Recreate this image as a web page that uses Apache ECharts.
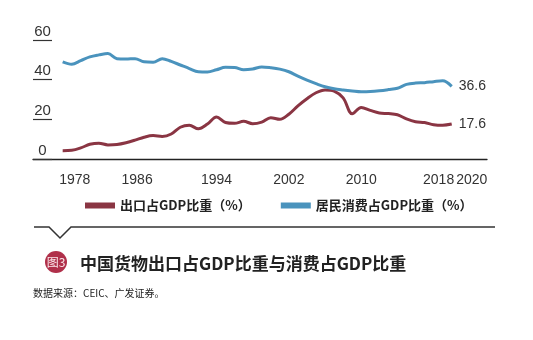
<!DOCTYPE html>
<html>
<head>
<meta charset="utf-8">
<script src="https://cdn.jsdelivr.net/npm/echarts@6/dist/echarts.min.js"></script>
<style>
html,body{margin:0;padding:0;background:#fff;}
#chart{width:533px;height:340px;}
</style>
</head>
<body>
<div id="chart"></div>
<script>
var years = [1977,1978,1979,1980,1981,1982,1983,1984,1985,1986,1987,1988,1989,1990,1991,1992,1993,1994,1995,1996,1997,1998,1999,2000,2001,2002,2003,2004,2005,2006,2007,2008,2009,2010,2011,2012,2013,2014,2015,2016,2017,2018,2019,2020];
var exportShare = [4.2,4.4,5.6,7.4,8.0,7.1,7.3,8.2,9.5,11.0,11.8,11.4,12.6,16.0,17.0,15.2,17.6,21.2,18.4,18.0,19.0,17.8,18.6,20.8,20.0,22.6,26.8,30.4,33.4,34.8,34.2,30.8,22.8,26.0,24.5,23.2,22.9,22.3,20.2,18.8,18.4,17.3,17.0,17.6];
var consumptionShare = [49.0,47.8,49.6,51.5,52.5,53.2,50.6,50.4,50.6,49.0,48.8,50.6,49.2,47.4,45.6,44.0,43.9,45.0,46.2,46.1,45.0,45.4,46.4,46.0,45.3,44.0,41.8,39.8,38.0,36.4,35.4,34.8,34.3,33.9,34.0,34.4,35.0,35.7,37.6,38.3,38.5,39.0,39.4,36.6];
var xTickLabels = [1978,1986,1994,2002,2010,2018,2020];
var yTicks = [0,20,40,60];
var seriesNames = ['出口占GDP比重（%）','居民消费占GDP比重（%）'];
var titleText = '中国货物出口占GDP比重与消费占GDP比重';
var badgeText = '图3';
var sourceText = '数据来源：CEIC、广发证券。';

function pairs(vals){ return years.map(function(y,i){ return [y, vals[i]]; }); }
var labelShift = {1978:'s3', 1986:'m7', 2018:'s8', 2020:'s18'};
var numFont = 'Liberation Sans';
var cjkFont = 'Noto Sans CJK SC';
var rich = {
  s3:{padding:[0,0,0,6], fontSize:14, fontFamily:numFont, color:'#333'},
  m7:{padding:[0,14,0,0], fontSize:14, fontFamily:numFont, color:'#333'},
  s8:{padding:[0,0,0,10], fontSize:14, fontFamily:numFont, color:'#333'},
  s18:{padding:[0,0,0,40], fontSize:14, fontFamily:numFont, color:'#333'}
};
function fmt(v){ var k = labelShift[v]; return k ? '{' + k + '|' + v + '}' : String(v); }
function xAxisFor(vals, showLine){
  return {
    type:'value', min:1973.72, max:2023.9, position:'bottom', offset:0,
    splitLine:{show:false},
    axisTick:{show:false},
    axisLine:{show:showLine, lineStyle:{color:'#222', width:1.3}},
    axisLabel:{
      customValues:vals, margin:14, hideOverlap:false,
      showMinLabel:true, showMaxLabel:true,
      color:'#333', fontSize:14, fontFamily:numFont,
      formatter:fmt, rich:rich
    }
  };
}

var chart = echarts.init(document.getElementById('chart'), null, {renderer:'canvas'});
chart.setOption({
  animation:false,
  backgroundColor:'#fff',
  grid:{left:33, right:46, top:40, bottom:181, containLabel:false},
  legend:{
    left:80, top:194, itemWidth:30, itemHeight:6, itemGap:30, icon:'rect',
    textStyle:{fontSize:13, fontWeight:'bold', color:'#222', fontFamily:cjkFont},
    data:seriesNames
  },
  xAxis:[
    xAxisFor(xTickLabels.slice(0,6), true),
    xAxisFor(xTickLabels.slice(6), false)
  ],
  yAxis:{
    type:'value', min:0, max:60, interval:20,
    splitLine:{show:false},
    axisLine:{show:false},
    axisTick:{show:true, inside:true, length:19, lineStyle:{color:'#333', width:1.2}},
    axisLabel:{
      customValues:yTicks,
      align:'center', verticalAlign:'bottom', margin:-9.5, lineHeight:17,
      color:'#333', fontSize:15, fontFamily:numFont
    }
  },
  series:[
    {
      name:seriesNames[0], type:'line', data:pairs(exportShare), xAxisIndex:0,
      smooth:0.35, showSymbol:false, symbol:'none',
      lineStyle:{color:'#8a3543', width:3}, itemStyle:{color:'#8a3543'},
      endLabel:{show:true, distance:7, color:'#333', fontSize:14, fontFamily:numFont,
        formatter:function(p){ return p.value[1].toFixed(1); }}
    },
    {
      name:seriesNames[1], type:'line', data:pairs(consumptionShare), xAxisIndex:0,
      smooth:0.35, showSymbol:false, symbol:'none',
      lineStyle:{color:'#4a93bd', width:3}, itemStyle:{color:'#4a93bd'},
      endLabel:{show:true, distance:7, color:'#333', fontSize:14, fontFamily:numFont,
        formatter:function(p){ return p.value[1].toFixed(1); }}
    }
  ],
  graphic:[
    {type:'polyline', shape:{points:[[34,227],[49,227],[60,238],[71,227],[495,227]]},
      style:{stroke:'#333', lineWidth:1.5, fill:null}},
    {type:'circle', shape:{cx:56, cy:262, r:11}, style:{fill:'#b0304a'}},
    {type:'text', x:56, y:262, style:{text:badgeText, fill:'#fbe9ec', fontSize:12,
      fontFamily:cjkFont, align:'center', verticalAlign:'middle'}},
    {type:'text', x:80, y:264, style:{text:titleText, fill:'#222', fontSize:17, fontWeight:'bold',
      fontFamily:cjkFont, align:'left', verticalAlign:'middle'}},
    {type:'text', x:33, y:293, style:{text:sourceText, fill:'#222', fontSize:10,
      fontFamily:cjkFont, align:'left', verticalAlign:'middle'}}
  ]
});
</script>
</body>
</html>
